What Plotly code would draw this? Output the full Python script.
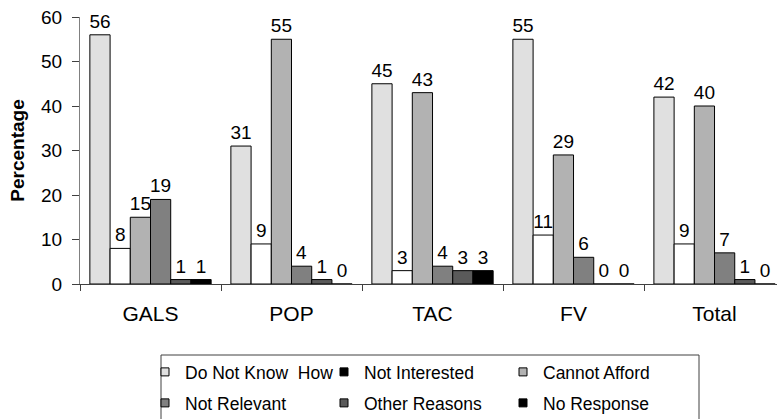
import plotly.graph_objects as go

categories = ["GALS", "POP", "TAC", "FV", "Total"]
series_names = ["Do Not Know\u00a0 How", "Not Interested", "Cannot Afford",
                "Not Relevant", "Other Reasons", "No Response"]
do_not_know_how = [56, 31, 45, 55, 42]
not_interested = [8, 9, 3, 11, 9]
cannot_afford = [15, 55, 43, 29, 40]
not_relevant = [19, 4, 4, 6, 7]
other_reasons = [1, 1, 3, 0, 1]
no_response = [1, 0, 3, 0, 0]
series_values = [do_not_know_how, not_interested, cannot_afford,
                 not_relevant, other_reasons, no_response]
bar_colors = ["#e0e0e0", "#ffffff", "#b2b2b2", "#808080", "#5a5a5a", "#000000"]
legend_colors = ["#e0e0e0", "#000000", "#b2b2b2", "#808080", "#5a5a5a", "#000000"]
y_ticks = [0, 10, 20, 30, 40, 50, 60]

FONT = "Arial, Liberation Sans, sans-serif"
W, H = 777, 419
ML, MT = 80, 17
PLOT_R, PLOT_B = 777, 284
MR, MB = W - PLOT_R, H - PLOT_B
PW, PH = PLOT_R - ML, PLOT_B - MT

fig = go.Figure()
for name, vals, col in zip(series_names, series_values, bar_colors):
    fig.add_trace(go.Bar(
        x=categories, y=vals, name=name, showlegend=False,
        marker=dict(color=col, line=dict(color="#000000", width=1)),
        text=[str(v) for v in vals], textposition="outside",
        textfont=dict(family=FONT, size=19, color="#000000"),
        constraintext="none", cliponaxis=False,
    ))

# legend entries (two rows of three)
for i, (name, col) in enumerate(zip(series_names, legend_colors)):
    fig.add_trace(go.Scatter(
        x=[None], y=[None], mode="markers", name=name,
        marker=dict(symbol="square", size=8, color=col,
                    line=dict(color="#000000", width=1)),
        legend="legend" if i < 3 else "legend2",
    ))

def px2paper_x(px):
    return (px - ML) / PW

def px2paper_y(py):
    return (PLOT_B - py) / PH

fig.update_layout(
    width=W, height=H,
    margin=dict(l=ML, r=MR, t=MT, b=MB, autoexpand=False),
    paper_bgcolor="white", plot_bgcolor="white",
    font=dict(family=FONT, color="#000000"),
    barmode="group", bargap=0.14, bargroupgap=0,
    xaxis=dict(
        type="category", range=[-0.5, 4.443], showgrid=False,
        showline=True, linecolor="#404040", linewidth=1,
        ticks="outside", tickson="boundaries", ticklen=6, tickcolor="#404040",
        tickfont=dict(family=FONT, size=21, color="#000000"),
        ticklabelstandoff=11, zeroline=False,
    ),
    yaxis=dict(
        range=[0, 60], tickvals=y_ticks, showgrid=False, zeroline=False,
        showline=True, linecolor="#808080", linewidth=1,
        ticks="outside", ticklen=7, tickcolor="#404040",
        tickfont=dict(family=FONT, size=19, color="#000000"),
        ticklabelstandoff=6, ticklabeloverflow="allow",
        title=dict(text="<b>Percentage</b>", font=dict(family=FONT, size=19, color="#000000"), standoff=11),
    ),
    legend=dict(
        orientation="h", xref="container", yref="container",
        x=145 / W, y=1 - 354 / H, xanchor="left", yanchor="top",
        entrywidth=134, bgcolor="rgba(0,0,0,0)", borderwidth=0,
        font=dict(family=FONT, size=17.5, color="#000000"),
    ),
    legend2=dict(
        orientation="h", xref="container", yref="container",
        x=145 / W, y=1 - 385 / H, xanchor="left", yanchor="top",
        entrywidth=134, bgcolor="rgba(0,0,0,0)", borderwidth=0,
        font=dict(family=FONT, size=17.5, color="#000000"),
    ),
    shapes=[dict(
        type="rect", xref="paper", yref="paper",
        x0=px2paper_x(161), x1=px2paper_x(699),
        y0=px2paper_y(440), y1=px2paper_y(355),
        line=dict(color="#404040", width=1), fillcolor="rgba(0,0,0,0)",
    )],
)

fig.write_html("out.html", config={"displayModeBar": False},
               post_script="document.body.style.margin='0';")
